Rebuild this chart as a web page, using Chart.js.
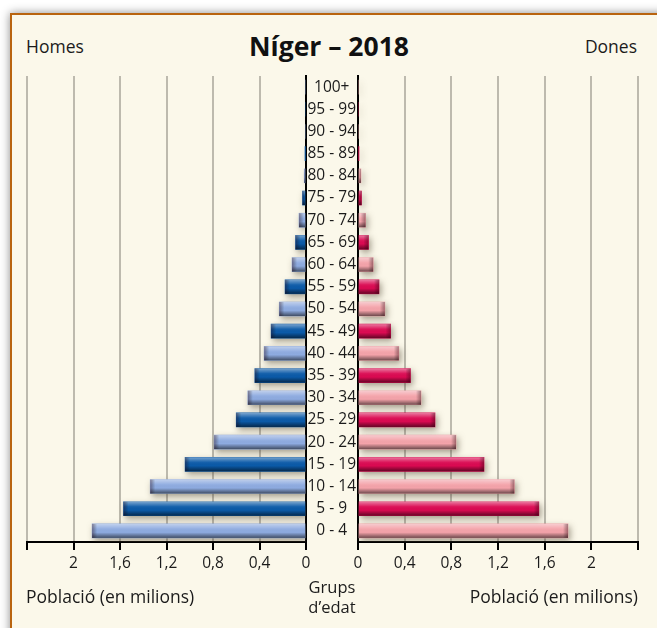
<!DOCTYPE html>
<html lang="ca">
<head>
<meta charset="utf-8">
<title>Níger – 2018</title>
<script src="https://cdn.jsdelivr.net/npm/chart.js@4.4.1/dist/chart.umd.min.js"></script>
<style>
    html, body { margin: 0; padding: 0; }
    body {
        position: relative;
        width: 657px;
        height: 628px;
        overflow: hidden;
        background: #fff;
        font-family: 'Open Sans', sans-serif;
        color: #1b1b1b;
    }
    .frame {
        position: absolute;
        left: 10px;
        top: 13px;
        width: 700px;
        height: 700px;
        border: 2px solid #b9640f;
        background: #fbf8ea;
        box-shadow: 0 0 9px rgba(0, 0, 0, 0.45);
    }
    canvas { position: absolute; top: 60px; }
    #men { left: 0; }
    #women { left: 300px; }
    .txt {
        position: absolute;
        font-size: 17.5px;
        line-height: 22px;
        white-space: nowrap;
    }
    .title {
        position: absolute;
        left: 0;
        width: 658px;
        top: 30px;
        text-align: center;
        font-size: 26.5px;
        line-height: 32px;
        font-weight: bold;
        color: #111;
    }
    .center { text-align: center; width: 100px; font-size: 16.5px; }
</style>
</head>
<body>
<div class="frame"></div>
<div class="txt" style="left:26px; top:35px;">Homes</div>
<div class="title">Níger – 2018</div>
<div class="txt" style="right:20px; top:35px;">Dones</div>

<canvas id="men" width="330" height="568"></canvas>
<canvas id="women" width="357" height="568"></canvas>

<div class="txt" style="left:26px; top:585px;">Població (en milions)</div>
<div class="txt" style="right:19px; top:585px;">Població (en milions)</div>
<div class="txt center" style="left:282px; top:576px;">Grups</div>
<div class="txt center" style="left:282px; top:596px;">d’edat</div>

<script>
var ageGroups = ['0 - 4', '5 - 9', '10 - 14', '15 - 19', '20 - 24', '25 - 29', '30 - 34',
    '35 - 39', '40 - 44', '45 - 49', '50 - 54', '55 - 59', '60 - 64', '65 - 69',
    '70 - 74', '75 - 79', '80 - 84', '85 - 89', '90 - 94', '95 - 99', '100+'];

// millions of people per age group
var menValues = [1.84, 1.57, 1.34, 1.04, 0.79, 0.60, 0.50, 0.44, 0.36, 0.30, 0.23,
    0.18, 0.12, 0.09, 0.06, 0.03, 0.015, 0.005, 0, 0, 0];
var womenValues = [1.80, 1.55, 1.34, 1.08, 0.84, 0.66, 0.54, 0.45, 0.35, 0.28, 0.23,
    0.18, 0.13, 0.09, 0.065, 0.03, 0.025, 0.006, 0, 0, 0];

var xTicks = [0, 0.4, 0.8, 1.2, 1.6, 2, 2.4];

// light / dark bars alternate by age group
var menShades = ['#8eabe0', '#0b5aa8'];
var womenShades = ['#f4a3aa', '#db0a52'];

var gridGrey = '#bdbaae';
var ink = '#1b1b1b';
var tickFont = { family: "'Open Sans', sans-serif", size: 15.5 };

// soft drop shadow under the bars, then a glossy top / dark bottom on each bar
var barRelief = {
    id: 'barRelief',
    beforeDatasetsDraw: function (chart) {
        var ctx = chart.ctx;
        ctx.save();
        ctx.shadowColor = 'rgba(80,70,50,0.5)';
        ctx.shadowBlur = 6;
        ctx.shadowOffsetX = 2;
        ctx.shadowOffsetY = 3;
    },
    afterDatasetsDraw: function (chart) {
        var ctx = chart.ctx;
        ctx.restore();
        chart.getDatasetMeta(0).data.forEach(function (bar) {
            var p = bar.getProps(['x', 'y', 'base', 'height'], true);
            var left = Math.min(p.x, p.base), right = Math.max(p.x, p.base);
            if (right - left < 0.5) return;
            var top = p.y - p.height / 2, bottom = p.y + p.height / 2;

            var g = ctx.createLinearGradient(0, top, 0, bottom);
            g.addColorStop(0, 'rgba(255,255,255,0.45)');
            g.addColorStop(0.35, 'rgba(255,255,255,0.05)');
            g.addColorStop(0.6, 'rgba(0,0,0,0)');
            g.addColorStop(1, 'rgba(0,0,0,0.55)');
            ctx.fillStyle = g;
            ctx.fillRect(left, top, right - left, bottom - top);

            // darker bevel at the outer end
            var dir = p.x < p.base ? 1 : -1;
            var w = Math.min(5, right - left);
            var h = ctx.createLinearGradient(p.x + dir * w, 0, p.x, 0);
            h.addColorStop(0, 'rgba(0,0,0,0)');
            h.addColorStop(1, 'rgba(40,0,10,0.4)');
            ctx.fillStyle = h;
            ctx.fillRect(Math.min(p.x, p.x + dir * w), top, w, bottom - top);
        });
    }
};

function formatTick(value) {
    if (value === 2.4) return '';
    return String(Math.round(value * 10) / 10).replace('.', ',');
}

function xScale(reverse) {
    return {
        type: 'linear',
        min: 0,
        max: 2.4,
        reverse: reverse,
        afterBuildTicks: function (scale) {
            scale.ticks = xTicks.map(function (v) { return { value: v }; });
        },
        afterFit: function (scale) { scale.height = 40; },
        grid: {
            color: function (c) { return c.tick && c.tick.value === 0 ? '#000' : gridGrey; },
            lineWidth: 2,
            tickColor: '#000',
            tickWidth: 2,
            tickLength: 8
        },
        border: { display: true, color: '#000', width: 2 },
        ticks: {
            color: ink,
            font: tickFont,
            padding: 4,
            maxRotation: 0,
            callback: formatTick
        }
    };
}

function barData(values, shades) {
    return {
        labels: ageGroups,
        datasets: [{
            data: values,
            backgroundColor: values.map(function (v, i) { return shades[i % 2]; }),
            borderWidth: 0,
            barThickness: 14
        }]
    };
}

new Chart(document.getElementById('men').getContext('2d'), {
    type: 'bar',
    data: barData(menValues, menShades),
    plugins: [barRelief],
    options: {
        responsive: false,
        animation: false,
        indexAxis: 'y',
        layout: { padding: { left: 27, right: 24, top: 16, bottom: 46 } },
        plugins: { legend: { display: false }, tooltip: { enabled: false } },
        scales: {
            x: xScale(true),
            y: {
                position: 'right',
                reverse: true,
                z: 1,
                afterFit: function (scale) { scale.width = 0; },
                grid: { display: false, drawTicks: false },
                border: { display: true, color: '#000', width: 2 },
                ticks: { display: false }
            }
        }
    }
});

new Chart(document.getElementById('women').getContext('2d'), {
    type: 'bar',
    data: barData(womenValues, womenShades),
    plugins: [barRelief],
    options: {
        responsive: false,
        animation: false,
        indexAxis: 'y',
        layout: { padding: { left: 6, right: 19, top: 16, bottom: 46 } },
        plugins: { legend: { display: false }, tooltip: { enabled: false } },
        scales: {
            x: xScale(false),
            y: {
                position: 'left',
                reverse: true,
                z: 1,
                afterFit: function (scale) { scale.width = 52; },
                grid: { display: false, drawTicks: false },
                border: { display: true, color: '#000', width: 2 },
                ticks: {
                    color: ink,
                    font: tickFont,
                    padding: 2,
                    crossAlign: 'center',
                    autoSkip: false
                }
            }
        }
    }
});
</script>
</body>
</html>
